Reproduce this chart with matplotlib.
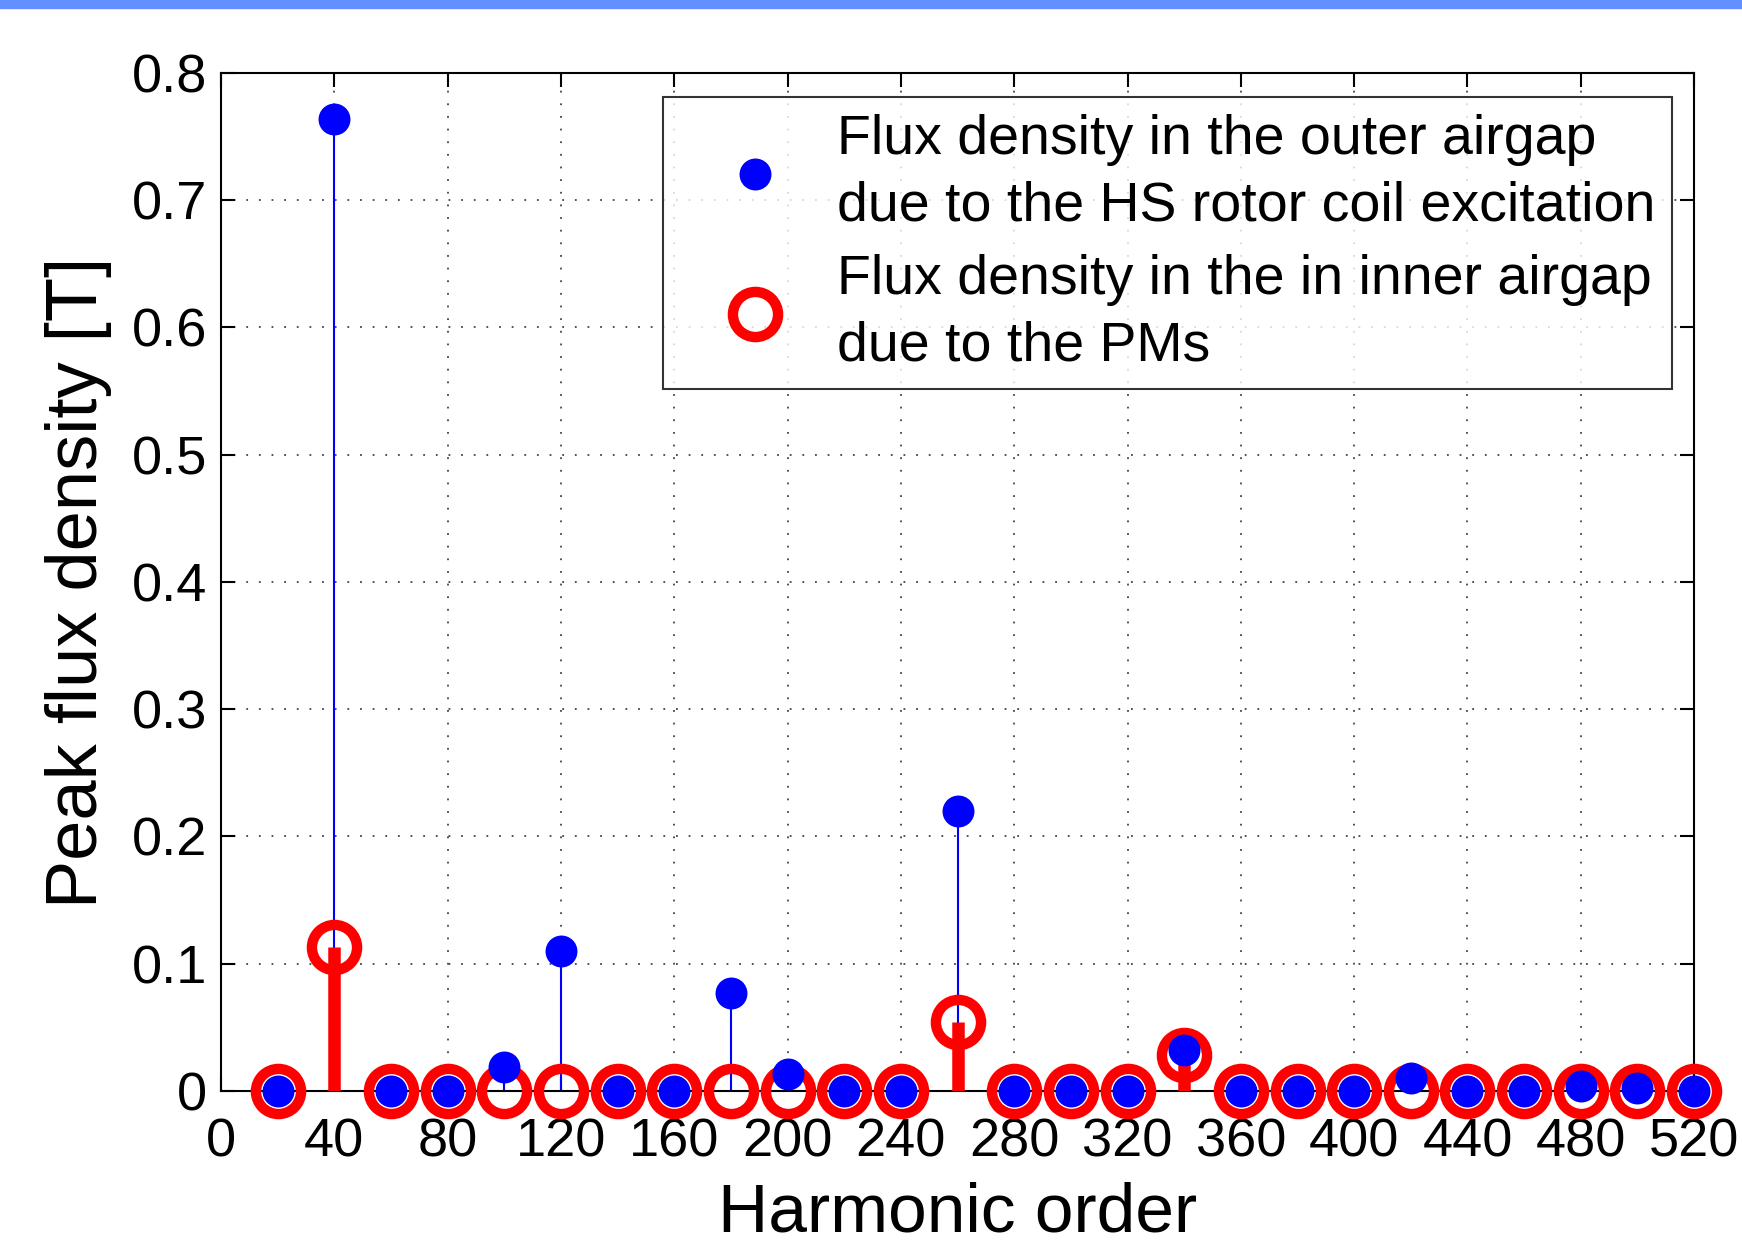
import numpy as np
import matplotlib.pyplot as plt
from matplotlib.lines import Line2D
from matplotlib.patches import Rectangle

plt.rcParams['font.family'] = ['Liberation Sans', 'DejaVu Sans']

# harmonic orders and peak flux density values [T]
harmonics = [20, 40, 60, 80, 100, 120, 140, 160, 180, 200, 220, 240, 260,
             280, 300, 320, 340, 360, 380, 400, 420, 440, 460, 480, 500, 520]
outer_hs = [0.0, 0.764, 0.0, 0.0, 0.019, 0.110, 0.0, 0.0, 0.077, 0.013, 0.0, 0.0, 0.220,
            0.0, 0.0, 0.0, 0.032, 0.0, 0.0, 0.0, 0.010, 0.0, 0.0, 0.004, 0.002, 0.0]
inner_pm = [0.0, 0.113, 0.0, 0.0, 0.0, 0.0, 0.0, 0.0, 0.0, 0.0, 0.0, 0.0, 0.054,
            0.0, 0.0, 0.0, 0.028, 0.0, 0.0, 0.0, 0.0, 0.0, 0.0, 0.0, 0.0, 0.0]

legend_labels = ['Flux density in the outer airgap\ndue to the HS rotor coil excitation',
                 'Flux density in the in inner airgap\ndue to the PMs']

fig = plt.figure(figsize=(17.42, 12.43), dpi=100)
fig.patches.append(Rectangle((0, 1 - 8 / 1243), 1, 8 / 1243, transform=fig.transFigure,
                             color='#6490FF', zorder=10))
ax = fig.add_axes([0.1269, 0.1223, 0.8456, 0.819])

# blue stems (outer airgap)
b = ax.stem(harmonics, outer_hs, linefmt='b-', markerfmt='bo', basefmt=' ')
b.stemlines.set_linewidth(1.5)
b.stemlines.set_zorder(2)
b.markerline.set_markersize(23)
b.markerline.set_markeredgewidth(0)
b.markerline.set_zorder(5)
b.markerline.set_clip_on(False)

# red stems (inner airgap)
r = ax.stem(harmonics, inner_pm, linefmt='r-', markerfmt='ro', basefmt=' ')
r.stemlines.set_linewidth(9)
r.stemlines.set_capstyle('butt')
r.stemlines.set_zorder(3)
r.markerline.set_markersize(32.5)
r.markerline.set_markerfacecolor('none')
r.markerline.set_markeredgecolor('red')
r.markerline.set_markeredgewidth(7.5)
r.markerline.set_zorder(4)
r.markerline.set_clip_on(False)

ax.set_xlim(0, 520)
ax.set_ylim(0, 0.8)
ax.set_xticks(np.arange(0, 521, 40))
ax.set_yticks(np.arange(0, 0.81, 0.1))
ax.set_yticklabels(['0'] + ['%.1f' % v for v in np.arange(0.1, 0.81, 0.1)])
ax.grid(True, color='#444444', linestyle=(0, (1, 6)), linewidth=1.3)
ax.tick_params(direction='in', length=10, width=1.5, labelsize=39, top=True, right=True, pad=10)
ax.tick_params(axis='x', pad=19)
for s in ax.spines.values():
    s.set_linewidth(1.5)

ax.set_xlabel('Harmonic order', fontsize=50, labelpad=10)
ax.set_ylabel('Peak flux density [T]', fontsize=52, labelpad=14)

handles = [Line2D([], [], linestyle='none', marker='o', markersize=23,
                  markerfacecolor='blue', markeredgewidth=0),
           Line2D([], [], linestyle='none', marker='o', markersize=32.5,
                  markerfacecolor='none', markeredgecolor='red', markeredgewidth=7.5)]
leg = ax.legend(handles, legend_labels, loc='upper right', bbox_to_anchor=(0.985, 0.976),
                fontsize=40, frameon=True, fancybox=False, edgecolor='black',
                handlelength=2.72, handletextpad=0.12, labelspacing=0.4,
                borderpad=0.3, borderaxespad=0)
leg.get_frame().set_linewidth(1.5)
for txt in leg.get_texts():
    txt.set_linespacing(1.35)

fig.savefig('out.png', dpi=100)
